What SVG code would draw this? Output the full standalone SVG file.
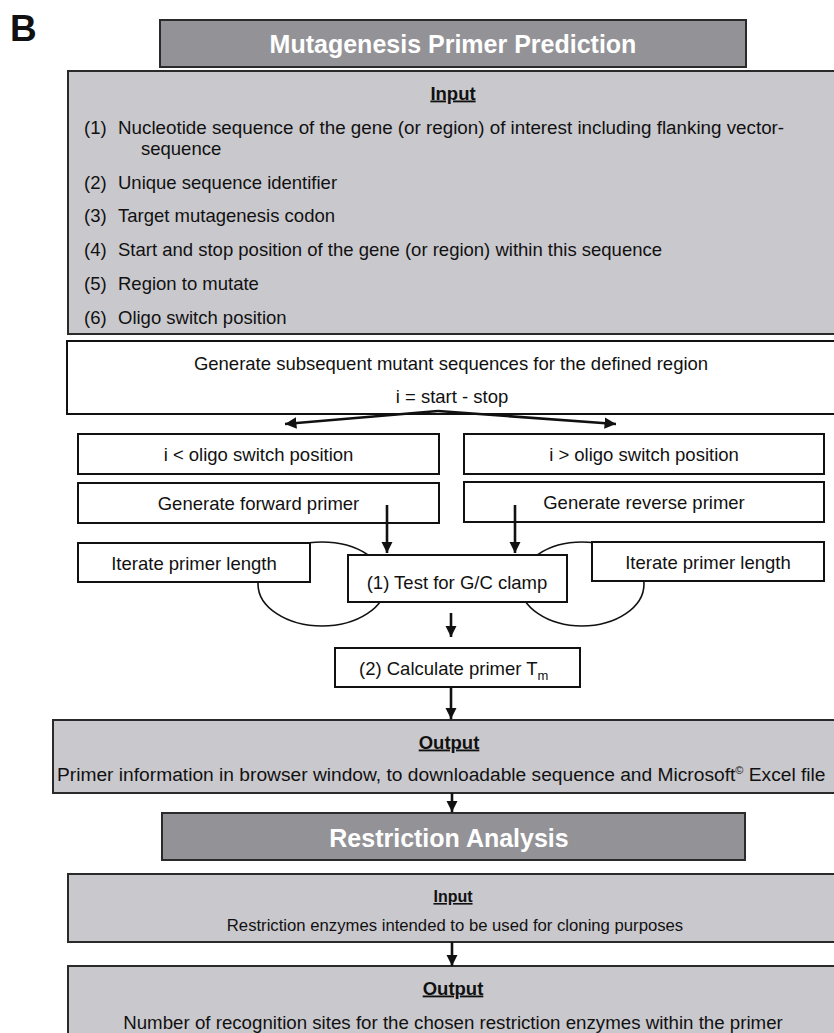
<svg xmlns="http://www.w3.org/2000/svg" width="834" height="1033" viewBox="0 0 834 1033">
  <style>
    text { font-family: "Liberation Sans", Arial, sans-serif; fill: #111; }
    .body { font-size: 18.5px; }
    .small { font-size: 16.7px; }
    .lbl { font-size: 18.5px; font-weight: bold; text-decoration: underline; }
    .lblsm { font-size: 16px; font-weight: bold; text-decoration: underline; }
    .head { font-size: 25px; font-weight: bold; fill: #fff; }
    .mid { text-anchor: middle; }
    .dark { fill: #939397; stroke: #2a2a2a; stroke-width: 2; }
    .light { fill: #c9c8cd; stroke: #2a2a2a; stroke-width: 2; }
    .plain { fill: #fff; stroke: #111; stroke-width: 2; }
    .loop { fill: none; stroke: #111; stroke-width: 1.6; }
    .conn { fill: none; stroke: #111; stroke-width: 2.6; }
  </style>
  <defs>
    <marker id="ah" viewBox="0 0 10 10" refX="10" refY="5" markerWidth="4.4" markerHeight="4.4" orient="auto" markerUnits="strokeWidth">
      <path d="M0,0 L10,5 L0,10 Z" fill="#111"/>
    </marker>
  </defs>

  <text x="10" y="41" style="font-size:37px;font-weight:bold">B</text>

  <!-- iteration loops sit behind the boxes -->
  <g id="loops">
    <ellipse class="loop" cx="322" cy="584" rx="64" ry="42"/>
    <ellipse class="loop" cx="582" cy="584" rx="62" ry="42"/>
  </g>

  <g id="mpp-header">
    <rect class="dark" x="160" y="20" width="586" height="47"/>
    <text class="head mid" x="453" y="53">Mutagenesis Primer Prediction</text>
  </g>

  <g id="input">
    <rect class="light" x="68" y="71" width="780" height="263"/>
    <text class="lbl mid" x="453" y="99.5">Input</text>
    <text class="body" y="133.5"><tspan x="84">(1)</tspan><tspan x="118" style="font-size:18.8px">Nucleotide sequence of the gene (or region) of interest including flanking vector-</tspan></text>
    <text class="body" x="141" y="154.5">sequence</text>
    <text class="body" y="188.5"><tspan x="84">(2)</tspan><tspan x="118">Unique sequence identifier</tspan></text>
    <text class="body" y="221.5"><tspan x="84">(3)</tspan><tspan x="118">Target mutagenesis codon</tspan></text>
    <text class="body" y="255.5"><tspan x="84">(4)</tspan><tspan x="118">Start and stop position of the gene (or region) within this sequence</tspan></text>
    <text class="body" y="289.5"><tspan x="84">(5)</tspan><tspan x="118">Region to mutate</tspan></text>
    <text class="body" y="323.5"><tspan x="84">(6)</tspan><tspan x="118">Oligo switch position</tspan></text>
  </g>

  <g id="generate">
    <rect class="plain" x="67" y="341" width="780" height="73"/>
    <text class="body mid" x="451" y="369.5">Generate subsequent mutant sequences for the defined region</text>
    <text class="body mid" x="452" y="403">i = start - stop</text>
  </g>

  <g id="below-switch">
    <rect class="plain" x="78" y="434" width="361" height="40"/>
    <text class="body mid" x="258.5" y="461">i &lt; oligo switch position</text>
  </g>
  <g id="above-switch">
    <rect class="plain" x="464" y="434" width="360" height="40"/>
    <text class="body mid" x="644" y="461">i &gt; oligo switch position</text>
  </g>

  <g id="forward-primer">
    <rect class="plain" x="78" y="483" width="361" height="40"/>
    <text class="body mid" x="258.5" y="510">Generate forward primer</text>
  </g>
  <g id="reverse-primer">
    <rect class="plain" x="464" y="482" width="360" height="40"/>
    <text class="body mid" x="644" y="509">Generate reverse primer</text>
  </g>

  <g id="iterate-left">
    <rect class="plain" x="78" y="543" width="232" height="39"/>
    <text class="body mid" x="194" y="569.5">Iterate primer length</text>
  </g>
  <g id="iterate-right">
    <rect class="plain" x="592" y="542" width="232" height="39"/>
    <text class="body mid" x="708" y="568.5">Iterate primer length</text>
  </g>

  <g id="gc-clamp">
    <rect class="plain" x="348" y="555" width="219" height="47"/>
    <text class="body mid" x="457" y="588.5">(1) Test for G/C clamp</text>
  </g>

  <g id="tm">
    <rect class="plain" x="335" y="648" width="245" height="39"/>
    <text class="body" x="359" y="674.5">(2) Calculate primer T<tspan dy="5" style="font-size:13px">m</tspan></text>
  </g>

  <g id="output">
    <rect class="light" x="53" y="720" width="795" height="73"/>
    <text class="lbl mid" x="449" y="748.5">Output</text>
    <text class="body" x="57" y="780.5" style="font-size:19.2px">Primer information in browser window, to downloadable sequence and Microsoft<tspan dy="-7" style="font-size:11px">©</tspan><tspan dy="7"> Excel file</tspan></text>
  </g>

  <g id="ra-header">
    <rect class="dark" x="162" y="813" width="583" height="47"/>
    <text class="head mid" x="449" y="847">Restriction Analysis</text>
  </g>

  <g id="ra-input">
    <rect class="light" x="68" y="874" width="780" height="68"/>
    <text class="lblsm mid" x="453" y="902">Input</text>
    <text class="small mid" x="455" y="931">Restriction enzymes intended to be used for cloning purposes</text>
  </g>

  <g id="ra-output">
    <rect class="light" x="68" y="966" width="780" height="80"/>
    <text class="lbl mid" x="453" y="994.5">Output</text>
    <text class="body mid" x="453" y="1028.5" style="font-size:18.7px">Number of recognition sites for the chosen restriction enzymes within the primer</text>
  </g>

  <g id="connectors">
    <path class="conn" d="M438,411 L285,424" marker-end="url(#ah)"/>
    <path class="conn" d="M438,411 L616,424" marker-end="url(#ah)"/>
    <path class="conn" d="M387,505 L387,553" marker-end="url(#ah)"/>
    <path class="conn" d="M515,505 L515,553" marker-end="url(#ah)"/>
    <path class="conn" d="M451,613 L451,637" marker-end="url(#ah)"/>
    <path class="conn" d="M451,687 L451,719" marker-end="url(#ah)"/>
    <path class="conn" d="M452,793 L452,812" marker-end="url(#ah)"/>
    <path class="conn" d="M452,942 L452,966" marker-end="url(#ah)"/>
  </g>
</svg>
